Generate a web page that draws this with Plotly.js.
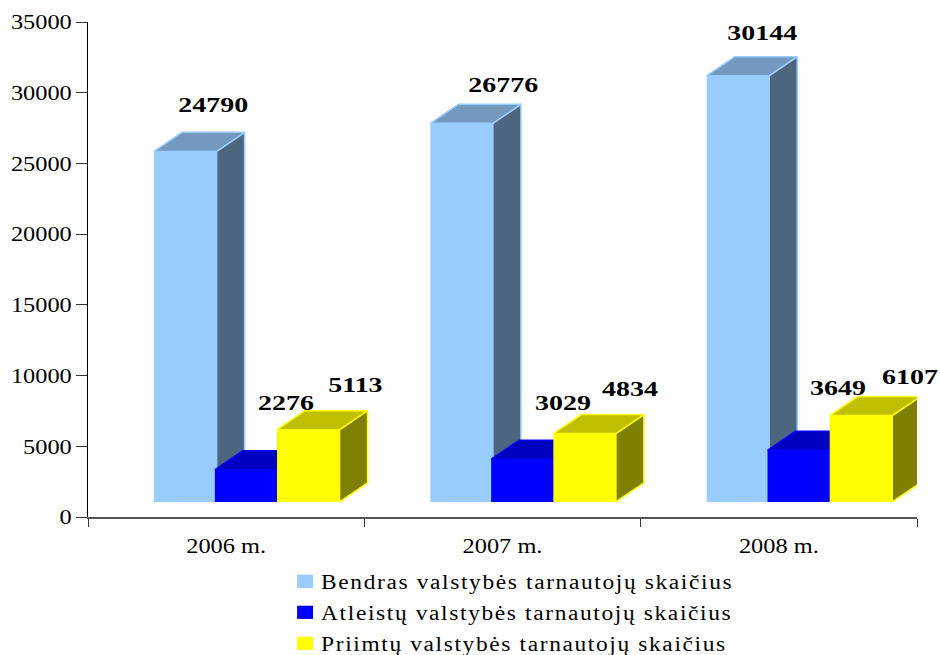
<!DOCTYPE html>
<html>
<head>
<meta charset="utf-8">
<script src="https://cdn.plot.ly/plotly-3.0.1.min.js"></script>
<style>
html,body{margin:0;padding:0;background:#fff}
.legendtext{letter-spacing:1.4px}
.legend .legendpoints path{transform:translate(24px,0) scale(1.33,1.1)}
.legend .scrollbox{clip-path:none !important}
.legend{clip-path:none !important}
</style>
</head>
<body>
<div id="chart" style="width:940px;height:655px"></div>
<script>
const years = ['2006 m.', '2007 m.', '2008 m.'];
const bendras = [24790, 26776, 30144];
const atleistu = [2276, 3029, 3649];
const priimtu = [5113, 4834, 6107];
const names = ['Bendras valstybės tarnautojų skaičius','Atleistų valstybės tarnautojų skaičius','Priimtų valstybės tarnautojų skaičius'];

// styling and geometry of the pseudo-3D look
const W = 940, H = 655, L = 88, T = 22, R = 916.7, B = 516.7;
const floor = 1062, barW = 0.2263, depthX = 28 / ((R - L) / 3), depthY = 19 / ((B - T) / 35000);
const seriesStyle = [
  {vals: bendras, off: 0.239, front: '#99CCFF', top: '#7399BF', side: '#4D6680'},
  {vals: atleistu, off: 0.459, front: '#0000FF', top: '#0000BF', side: '#000080'},
  {vals: priimtu, off: 0.684, front: '#FFFF00', top: '#BFBF00', side: '#808000'}
];
// label centres in page pixels, same order as the series
const labelPx = [
  [[213,105],[503,85],[762,33]],
  [[286,403],[563,403],[838,388]],
  [[355,385],[630,389],[910,377]]
];

const traces = [];
seriesStyle.forEach((s, k) => {
  const ax = k === 0 ? '' : String(k + 1);
  const xa = 'x' + ax, ya = 'y' + ax;
  const xl = s.vals.map((_, i) => i + s.off);
  traces.push({
    type: 'bar', name: names[k], x: xl.map(v => v + barW / 2), y: s.vals, base: s.vals.map(() => floor),
    width: barW, marker: {color: s.front, line: {width: 0}}, xaxis: xa, yaxis: ya,
    legendgroup: 'g' + k, hoverinfo: 'y'
  });
  const tx = [], ty = [], sx = [], sy = [];
  s.vals.forEach((v, i) => {
    const a = xl[i], b = a + barW, h = floor + v;
    tx.push(a, b, b + depthX, a + depthX, a, null);
    ty.push(h, h, h + depthY, h + depthY, h, null);
    sx.push(b, b + depthX, b + depthX, b, b, null);
    sy.push(floor, floor + depthY, h + depthY, h, floor, null);
  });
  [[sx, sy, s.side], [tx, ty, s.top]].forEach(p => traces.push({
    type: 'scatter', mode: 'lines', x: p[0], y: p[1], fill: 'toself', fillcolor: p[2],
    line: {color: s.front, width: 1.5}, xaxis: xa, yaxis: ya, showlegend: false, hoverinfo: 'skip', legendgroup: 'g' + k
  }));
});

const serif = '"Liberation Serif", "Times New Roman", serif';
const annotations = [];
seriesStyle.forEach((s, k) => s.vals.forEach((v, i) => annotations.push({
  xref: 'paper', yref: 'paper', x: (labelPx[k][i][0] - L) / (R - L), y: (B - labelPx[k][i][1]) / (B - T),
  text: String(v), showarrow: false, xanchor: 'center', yanchor: 'middle',
  font: {family: serif, size: 21, color: '#000', weight: 700}
})));

const hiddenX = {range: [0, 3], visible: false, fixedrange: true, overlaying: 'x'};
const hiddenY = {range: [0, 35000], visible: false, fixedrange: true, overlaying: 'y'};

const layout = {
  width: W, height: H, margin: {l: L, t: T, r: W - R, b: H - B, pad: 0, autoexpand: false},
  paper_bgcolor: '#fff', plot_bgcolor: '#fff', showlegend: true, barmode: 'overlay',
  font: {family: serif, size: 21, color: '#000'},
  xaxis: {
    range: [0, 3], fixedrange: true, showgrid: false, zeroline: false, showline: true, linecolor: '#555', linewidth: 1.5,
    tickmode: 'array', tickvals: [0.5, 1.5, 2.5], ticktext: years, ticks: '', tickfont: {family: serif, size: 21, color: '#000'},
    ticklabelstandoff: 9,
    minor: {tickmode: 'array', tickvals: [0, 1, 2, 3], ticks: 'outside', ticklen: 8, tickwidth: 1, tickcolor: '#333', showgrid: false}
  },
  yaxis: {
    range: [0, 35000], fixedrange: true, showgrid: false, zeroline: false, showline: true, linecolor: '#000', linewidth: 1,
    tickmode: 'array', tickvals: [0,5000,10000,15000,20000,25000,30000,35000], tickformat: 'd',
    ticks: 'outside', ticklen: 11, tickwidth: 1, tickcolor: '#333', tickfont: {family: serif, size: 21, color: '#000'}
  },
  xaxis2: hiddenX, yaxis2: hiddenY, xaxis3: hiddenX, yaxis3: hiddenY,
  legend: {
    x: (281 - L) / (R - L), xanchor: 'left', y: (B - 561.5) / (B - T), yanchor: 'top', orientation: 'v',
    traceorder: 'grouped', tracegroupgap: 2, borderwidth: 0, bgcolor: 'rgba(0,0,0,0)',
    font: {family: serif, size: 20, color: '#000'}, itemclick: false, itemdoubleclick: false
  },
  annotations: annotations
};
function stretch(selector, factor) {
  document.querySelectorAll(selector).forEach(t => {
    const len = t.getComputedTextLength();
    t.setAttribute('textLength', (len * factor).toFixed(1));
    t.setAttribute('lengthAdjust', 'spacingAndGlyphs');
  });
}
Plotly.newPlot('chart', traces, layout, {displayModeBar: false, responsive: false}).then(() => {
  stretch('.xtick text', 1.16);
  stretch('.ytick text', 1.16);
  stretch('.annotation text', 1.33);
  stretch('.legendtext', 1.17);
});
</script>
</body>
</html>
